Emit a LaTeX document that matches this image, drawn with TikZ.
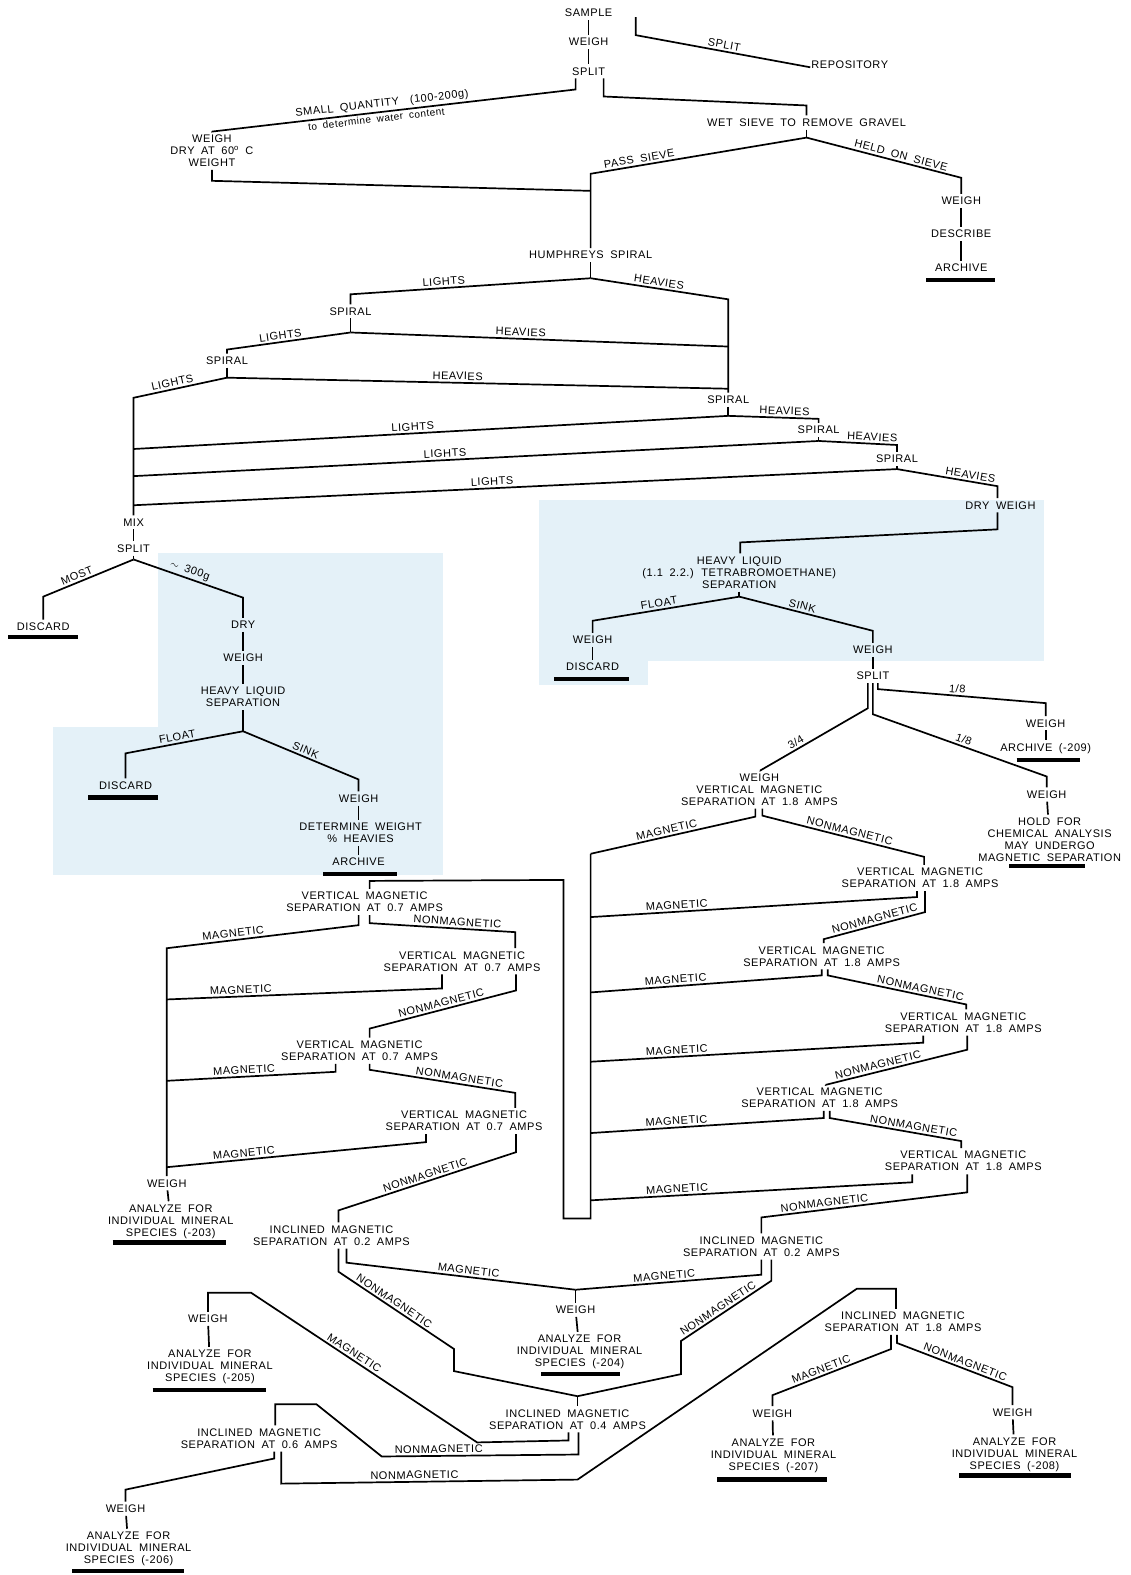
\documentclass[tikz,border=0pt]{standalone}
\usepackage{fontspec}
\newfontfamily\lblfont[LetterSpace=5,WordSpace=1.8]{Liberation Sans}
\newcommand{\lblsize}{\lblfont\fontsize{11}{12}\selectfont}
\definecolor{panel}{RGB}{228,241,248}
\begin{document}
\begin{tikzpicture}
  [x=1.0044pt, y=-1.0044pt,
   lbl/.style={font=\lblsize, inner xsep=1pt, inner ysep=3pt, align=center},
   tag/.style={font=\lblsize, inner sep=2pt, sloped, above},
   wire/.style={line width=1.7pt},
   bar/.style={line width=4.2pt}]

  \useasboundingbox (0,0) rectangle (1125,1568);

  % shaded panels
  \fill[panel] (157,551) rectangle (441,871);
  \fill[panel] (53,724) rectangle (157,871);
  \fill[panel] (537,498) rectangle (1039,658);
  \fill[panel] (537,658) rectangle (645,682);

  % sample, split, sieve
  \node[lbl] (sample) at (586,13) {SAMPLE};
  \node[lbl] (weigh0) at (586,42) {WEIGH};
  \node[lbl] (split0) at (586,71) {SPLIT};
  \node[lbl] (repo) at (846,64) {REPOSITORY};
  \node[lbl] (weigh1) at (211,150) {WEIGH\\DRY AT 60\textsuperscript{o} C\\WEIGHT};
  \node[lbl] (wetsieve) at (803,122) {WET SIEVE TO REMOVE GRAVEL};
  \node[lbl] (weigh2) at (957,200) {WEIGH};
  \node[lbl] (describe) at (957,233) {DESCRIBE};
  \node[lbl] (archive1) at (957,267) {ARCHIVE};
  \node[lbl] (humph) at (588,254) {HUMPHREYS SPIRAL};

  \coordinate (repoleg) at (633,17);
  \coordinate (c-small) at (211,131);
  \coordinate (c-wet) at (803,105);
  \coordinate (j-sieve) at (803,137);
  \coordinate (c-pass) at (588,173);
  \coordinate (c-held) at (957,177);
  \coordinate (j-dry) at (588,190);

  \draw[wire] (sample) -- (weigh0);
  \draw[wire] (weigh0) -- (split0);
  \draw[wire] (repoleg) -- (633,35) -- node[tag,pos=.5] (t-repo) {SPLIT} ([yshift=-3pt]repo.west);
  \draw[wire] ([xshift=-13pt]split0.south) -- ++(0,11)
    -- node[tag,pos=.53] (t-small) {SMALL QUANTITY\quad(100-200g)}
       node[tag,below,pos=.55] (t-water) {\fontsize{10}{11}\selectfont to determine water content}
    (c-small) -- (weigh1.north);
  \draw[wire] (weigh1.south) -- ++(0,11) -- (j-dry);
  \draw[wire] ([xshift=15pt]split0.south) -- ++(0,18) -- (c-wet) -- (wetsieve.north);
  \draw[wire] (wetsieve) -- (j-sieve);
  \draw[wire] (j-sieve) -- node[tag,pos=.77] (t-pass) {PASS SIEVE} (c-pass) -- (humph);
  \draw[wire] (j-sieve) -- node[tag,pos=.6] (t-held) {HELD ON SIEVE} (c-held) -- (weigh2);
  \draw[wire] (weigh2) -- (describe);
  \draw[wire] (describe) -- (archive1);
  \draw[bar] (922,279) -- (991,279);

  % spirals
  \node[lbl] (spiral1) at (349,310) {SPIRAL};
  \node[lbl] (spiral2) at (226,359) {SPIRAL};
  \node[lbl] (spiral4) at (725,398) {SPIRAL};
  \node[lbl] (spiral5) at (815,428) {SPIRAL};
  \node[lbl] (spiral6) at (893,457) {SPIRAL};
  \node[lbl] (dryweigh) at (996,503) {DRY WEIGH};
  \node[lbl] (mix) at (133,520) {MIX};
  \node[lbl] (split1) at (133,546) {SPLIT};

  \coordinate (j-h) at (588,277);
  \coordinate (c-l1) at (349,293);
  \coordinate (c-h1) at (725,298);
  \coordinate (j-s1) at (349,331);
  \coordinate (c-l2) at (226,348);
  \coordinate (m-h2) at (725,345);
  \coordinate (j-s2) at (226,376);
  \coordinate (c-l3) at (133,396);
  \coordinate (m-h3) at (725,387);
  \coordinate (j-s4) at (725,414);
  \coordinate (m-l4) at (133,447);
  \coordinate (c-h4) at (815,417);
  \coordinate (j-s5) at (815,439);
  \coordinate (m-l5) at (133,474);
  \coordinate (c-h5) at (893,443);
  \coordinate (j-s6) at (893,467);
  \coordinate (m-l6) at (133,503);
  \coordinate (c-h6) at (993,484);

  \draw[wire] (humph) -- (j-h);
  \draw[wire] (j-h) -- node[tag,pos=.61] (t-l1) {LIGHTS} (c-l1) -- (spiral1);
  \draw[wire] (j-h) -- node[tag,pos=.49] (t-h1) {HEAVIES} (c-h1) -- (spiral4);
  \draw[wire] (spiral1) -- (j-s1);
  \draw[wire] (j-s1) -- node[tag,pos=.56] (t-l2) {LIGHTS} (c-l2) -- (spiral2);
  \draw[wire] (j-s1) -- node[tag,pos=.45] (t-h2) {HEAVIES} (m-h2);
  \draw[wire] (spiral2) -- (j-s2);
  \draw[wire] (j-s2) -- node[tag,pos=.57] (t-l3) {LIGHTS} (c-l3) -- (mix);
  \draw[wire] (j-s2) -- node[tag,pos=.46] (t-h3) {HEAVIES} (m-h3);
  \draw[wire] (spiral4) -- (j-s4);
  \draw[wire] (j-s4) -- node[tag,pos=.53] (t-l4) {LIGHTS} (m-l4);
  \draw[wire] (j-s4) -- node[tag,pos=.62] (t-h4) {HEAVIES} (c-h4) -- (spiral5);
  \draw[wire] (spiral5) -- (j-s5);
  \draw[wire] (j-s5) -- node[tag,pos=.545] (t-l5) {LIGHTS} (m-l5);
  \draw[wire] (j-s5) -- node[tag,pos=.68] (t-h5) {HEAVIES} (c-h5) -- (spiral6);
  \draw[wire] (spiral6) -- (j-s6);
  \draw[wire] (j-s6) -- node[tag,pos=.53] (t-l6) {LIGHTS} (m-l6);
  \draw[wire] (j-s6) -- node[tag,pos=.72] (t-h6) {HEAVIES} (c-h6) -- (c-h6 |- dryweigh.north);
  \draw[wire] (mix) -- (split1);

  % left heavy liquid panel
  \node[lbl] (discard1) at (43,624) {DISCARD};
  \node[lbl] (dry1) at (242,622) {DRY};
  \node[lbl] (weigh3) at (242,655) {WEIGH};
  \node[lbl] (hls1) at (242,694) {HEAVY LIQUID\\SEPARATION};
  \node[lbl] (discard2) at (125,782) {DISCARD};
  \node[lbl] (weigh4) at (357,795) {WEIGH};
  \node[lbl] (detw) at (359,829) {DETERMINE WEIGHT\\\% HEAVIES};
  \node[lbl] (archive2) at (357,858) {ARCHIVE};

  \coordinate (j-sp1) at (133,557);
  \coordinate (c-most) at (43,594);
  \coordinate (c-300) at (242,595);
  \coordinate (j-hl1) at (242,728);
  \coordinate (c-fl1) at (125,750);
  \coordinate (c-sk1) at (357,776);

  \draw[wire] (split1) -- (j-sp1);
  \draw[wire] (j-sp1) -- node[tag,pos=.6] (t-most) {MOST} (c-most) -- (discard1);
  \draw[wire] (j-sp1) -- node[tag,pos=.49] (t-300) {$\sim$ 300g} (c-300) -- (dry1);
  \draw[wire] (dry1) -- (weigh3);
  \draw[wire] (weigh3) -- (hls1);
  \draw[wire] (hls1) -- (j-hl1);
  \draw[wire] (j-hl1) -- node[tag,pos=.55] (t-fl1) {FLOAT} (c-fl1) -- (discard2);
  \draw[wire] (j-hl1) -- node[tag,pos=.52] (t-sk1) {SINK} (c-sk1) -- (weigh4);
  \draw[wire] (weigh4) -- (weigh4 |- detw.north);
  \draw[wire] (archive2 |- detw.south) -- (archive2);
  \draw[bar] (8,634) -- (78,634);
  \draw[bar] (88,794) -- (157,794);
  \draw[bar] (322,870) -- (395,870);

  % right heavy liquid panel
  \node[lbl] (hl2) at (736,570) {HEAVY LIQUID\\(1.1 2.2.) TETRABROMOETHANE)\\SEPARATION};
  \node[lbl] (weigh5) at (590,637) {WEIGH};
  \node[lbl] (discard3) at (590,664) {DISCARD};
  \node[lbl] (weigh6) at (869,647) {WEIGH};
  \node[lbl] (split2) at (869,673) {SPLIT};
  \node[lbl] (weigh7) at (1041,720) {WEIGH};
  \node[lbl] (archive3) at (1041,745) {ARCHIVE (-209)};
  \node[lbl] (weigh8) at (1042,791) {WEIGH};
  \node[lbl] (hold) at (1045,836) {HOLD FOR\\CHEMICAL ANALYSIS\\MAY UNDERGO\\MAGNETIC SEPARATION};
  \node[lbl] (vm0) at (756,786) {WEIGH\\VERTICAL MAGNETIC\\SEPARATION AT 1.8 AMPS};

  \coordinate (c-dw) at (993,527);
  \coordinate (c-hl2) at (737,540);
  \coordinate (j-hl2) at (736,594);
  \coordinate (c-fl2) at (590,618);
  \coordinate (c-sk2) at (869,628);
  \coordinate (c-r8) at (1041,700);
  \coordinate (c-m8) at (1042,773);
  \coordinate (c-q) at (757,767);

  \draw[wire] (dryweigh.south -| c-dw) -- (c-dw) -- (c-hl2) -- (hl2.north -| c-hl2);
  \draw[wire] (hl2) -- (j-hl2);
  \draw[wire] (j-hl2) -- node[tag,pos=.54] (t-fl2) {FLOAT} (c-fl2) -- (weigh5);
  \draw[wire] (j-hl2) -- node[tag,pos=.46] (t-sk2) {SINK} (c-sk2) -- (weigh6);
  \draw[wire] (weigh5) -- (discard3);
  \draw[wire] (weigh6) -- (split2);
  \draw[wire] ([xshift=5pt]split2.south) -- ++(0,6) -- node[tag,pos=.47] (t-r8) {1/8} (c-r8) -- (weigh7);
  \draw[wire] (split2.south) -- ++(0,31) -- node[tag,pos=.51] (t-m8) {1/8} (c-m8) -- (weigh8);
  \draw[wire] ([xshift=-5pt]split2.south) -- ++(0,25) -- node[tag,pos=.64] (t-q) {3/4} (c-q) -- (vm0.north -| c-q);
  \draw[wire] (weigh7) -- (archive3);
  \draw[wire] (weigh8) -- (hold);
  \draw[bar] (552,676) -- (626,676);
  \draw[bar] (1012,757) -- (1075,757);
  \draw[bar] (1005,862) -- (1080,862);

  % vertical magnetic separations at 1.8 amps
  \node[lbl] (v1) at (916,874) {VERTICAL MAGNETIC\\SEPARATION AT 1.8 AMPS};
  \node[lbl] (v2) at (818,952) {VERTICAL MAGNETIC\\SEPARATION AT 1.8 AMPS};
  \node[lbl] (v3) at (959,1018) {VERTICAL MAGNETIC\\SEPARATION AT 1.8 AMPS};
  \node[lbl] (v4) at (816,1093) {VERTICAL MAGNETIC\\SEPARATION AT 1.8 AMPS};
  \node[lbl] (v5) at (959,1156) {VERTICAL MAGNETIC\\SEPARATION AT 1.8 AMPS};
  \node[lbl] (i2r) at (758,1241) {INCLINED MAGNETIC\\SEPARATION AT 0.2 AMPS};

  \coordinate (c-rt) at (588,850);
  \coordinate (c-rb) at (588,1213);
  \coordinate (c-lb) at (561,1213);
  \coordinate (c-lt) at (561,876);
  \coordinate (c-l1t) at (368,877);
  \coordinate (c-v1) at (920,853);
  \coordinate (m-r1) at (588,913);
  \coordinate (c-v2) at (820,935);
  \coordinate (m-r2) at (588,988);
  \coordinate (c-v3) at (962,1000);
  \coordinate (m-r3) at (588,1057);
  \coordinate (c-v4) at (822,1080);
  \coordinate (m-r4) at (588,1128);
  \coordinate (c-v5) at (957,1136);
  \coordinate (m-r5) at (588,1195);
  \coordinate (c-i2r) at (758,1212);

  \draw[wire] ([xshift=-4pt]vm0.south) -- ++(0,8) -- node[tag,pos=.53] (t-vm0m) {MAGNETIC} (c-rt);
  \draw[wire] ([xshift=3pt]vm0.south) -- ++(0,7) -- node[tag,pos=.53] (t-vm0n) {NONMAGNETIC} (c-v1) -- (c-v1 |- v1.north);
  \draw[wire] ([xshift=-3pt]v1.south) -- ++(0,6) -- node[tag,pos=.735] (t-v1m) {MAGNETIC} (m-r1);
  \draw[wire] ([xshift=5pt]v1.south) -- ++(0,21) -- node[tag,pos=.48] (t-v1n) {NONMAGNETIC} (c-v2) -- (c-v2 |- v2.north);
  \draw[wire] (v2.south) -- ++(0,6) -- node[tag,pos=.63] (t-v2m) {MAGNETIC} (m-r2);
  \draw[wire] ([xshift=6pt]v2.south) -- ++(0,6) -- node[tag,pos=.66] (t-v2n) {NONMAGNETIC} (c-v3) -- (c-v3 |- v3.north);
  \draw[wire] ([xshift=-40pt]v3.south) -- ++(0,7) -- node[tag,pos=.74] (t-v3m) {MAGNETIC} (m-r3);
  \draw[wire] ([xshift=4pt]v3.south) -- ++(0,14) -- node[tag,pos=.62] (t-v3n) {NONMAGNETIC} (c-v4) -- (c-v4 |- v4.north);
  \draw[wire] ([xshift=4pt]v4.south) -- ++(0,7) -- node[tag,pos=.63] (t-v4m) {MAGNETIC} (m-r4);
  \draw[wire] ([xshift=10pt]v4.south) -- ++(0,7) -- node[tag,pos=.63] (t-v4n) {NONMAGNETIC} (c-v5) -- (c-v5 |- v5.north);
  \draw[wire] ([xshift=-51pt]v5.south) -- ++(0,8) -- node[tag,pos=.73] (t-v5m) {MAGNETIC} (m-r5);
  \draw[wire] ([xshift=4pt]v5.south) -- ++(0,18) -- node[tag,pos=.69] (t-v5n) {NONMAGNETIC} (c-i2r) -- (c-i2r |- i2r.north);

  % vertical magnetic separations at 0.7 amps
  \node[lbl] (l1) at (363,898) {VERTICAL MAGNETIC\\SEPARATION AT 0.7 AMPS};
  \node[lbl] (l2) at (460,957) {VERTICAL MAGNETIC\\SEPARATION AT 0.7 AMPS};
  \node[lbl] (l3) at (358,1046) {VERTICAL MAGNETIC\\SEPARATION AT 0.7 AMPS};
  \node[lbl] (l4) at (462,1116) {VERTICAL MAGNETIC\\SEPARATION AT 0.7 AMPS};
  \node[lbl] (weigh10) at (166,1178) {WEIGH};
  \node[lbl] (an203) at (170,1216) {ANALYZE FOR\\INDIVIDUAL MINERAL\\SPECIES (-203)};
  \node[lbl] (i2l) at (330,1230) {INCLINED MAGNETIC\\SEPARATION AT 0.2 AMPS};

  % trunk loops round to the 0.7 amps chain
  \draw[wire] (c-rt) -- (c-rb) -- (c-lb) -- (c-lt) -- (c-l1t) -- (c-l1t |- l1.north);

  \coordinate (c-lt1) at (166,944);
  \coordinate (c-l2b) at (513,928);
  \coordinate (m-l2) at (166,995);
  \coordinate (c-l3b) at (368,1024);
  \coordinate (m-l3) at (166,1076);
  \coordinate (c-l4b) at (513,1088);
  \coordinate (m-l4b) at (166,1162);
  \coordinate (c-i2l) at (337,1205);

  \draw[wire] ([xshift=-6pt]l1.south) -- ++(0,10) -- node[tag,pos=.65] (t-l1m) {MAGNETIC} (c-lt1) -- (weigh10);
  \draw[wire] ([xshift=5pt]l1.south) -- ++(0,8) -- node[tag,pos=.6] (t-l1n) {NONMAGNETIC} (c-l2b) -- (c-l2b |- l2.north);
  \draw[wire] ([xshift=-20pt]l2.south) -- ++(0,14) -- node[tag,pos=.73] (t-l2m) {MAGNETIC} (m-l2);
  \draw[wire] ([xshift=54pt]l2.south) -- ++(0,16) -- node[tag,pos=.5] (t-l2n) {NONMAGNETIC} (c-l3b) -- (c-l3b |- l3.north);
  \draw[wire] ([xshift=-24pt]l3.south) -- ++(0,8) -- node[tag,pos=.54] (t-l3m) {MAGNETIC} (m-l3);
  \draw[wire] ([xshift=10pt]l3.south) -- ++(0,6) -- node[tag,pos=.61] (t-l3n) {NONMAGNETIC} (c-l4b) -- (c-l4b |- l4.north);
  \draw[wire] ([xshift=-38pt]l4.south) -- ++(0,8) -- node[tag,pos=.7] (t-l4m) {MAGNETIC} (m-l4b);
  \draw[wire] ([xshift=52pt]l4.south) -- ++(0,18) -- node[tag,pos=.5] (t-l4n) {NONMAGNETIC} (c-i2l) -- (c-i2l |- i2l.north);
  \draw[wire] (weigh10) -- (an203);
  \draw[bar] (112,1237) -- (225,1237);

  % inclined magnetic separations
  \node[lbl] (weigh9) at (573,1304) {WEIGH};
  \node[lbl] (an204) at (577,1346) {ANALYZE FOR\\INDIVIDUAL MINERAL\\SPECIES (-204)};
  \node[lbl] (i04) at (565,1413) {INCLINED MAGNETIC\\SEPARATION AT 0.4 AMPS};
  \node[lbl] (weigh11) at (207,1313) {WEIGH};
  \node[lbl] (an205) at (209,1361) {ANALYZE FOR\\INDIVIDUAL MINERAL\\SPECIES (-205)};
  \node[lbl] (i06) at (258,1432) {INCLINED MAGNETIC\\SEPARATION AT 0.6 AMPS};
  \node[lbl] (weigh12) at (125,1502) {WEIGH};
  \node[lbl] (an206) at (128,1542) {ANALYZE FOR\\INDIVIDUAL MINERAL\\SPECIES (-206)};
  \node[lbl] (i18) at (899,1316) {INCLINED MAGNETIC\\SEPARATION AT 1.8 AMPS};
  \node[lbl] (weigh13) at (769,1407) {WEIGH};
  \node[lbl] (an207) at (770,1449) {ANALYZE FOR\\INDIVIDUAL MINERAL\\SPECIES (-207)};
  \node[lbl] (weigh14) at (1008,1406) {WEIGH};
  \node[lbl] (an208) at (1010,1448) {ANALYZE FOR\\INDIVIDUAL MINERAL\\SPECIES (-208)};

  \coordinate (j-204) at (573,1284);
  \coordinate (c-n2a) at (678,1335);
  \coordinate (c-n2b) at (678,1368);
  \coordinate (j-04) at (575,1390);
  \coordinate (c-n1a) at (452,1343);
  \coordinate (c-n1b) at (452,1365);
  \coordinate (c-m4a) at (475,1436);
  \coordinate (c-m4b) at (250,1287);
  \coordinate (c-m4c) at (207,1287);
  \coordinate (c-n4a) at (380,1450);
  \coordinate (c-n4b) at (315,1398);
  \coordinate (c-n4c) at (274,1398);
  \coordinate (c-w12) at (125,1483);
  \coordinate (c-n6a) at (575,1473);
  \coordinate (c-n6b) at (853,1283);
  \coordinate (c-n6c) at (892,1283);
  \coordinate (c-w13) at (769,1389);
  \coordinate (c-w14) at (1008,1381);

  \draw[wire] (i2r.south) -- ++(0,15) -- node[tag,pos=.52] (t-i2rm) {MAGNETIC} (j-204);
  \draw[wire] ([xshift=10pt]i2r.south) -- ++(0,21) -- node[tag,pos=.55] (t-i2rn) {NONMAGNETIC} (c-n2a) -- (c-n2b) -- (j-04);
  \draw[wire] ([xshift=15pt]i2l.south) -- ++(0,14) -- node[tag,pos=.53] (t-i2lm) {MAGNETIC} (j-204);
  \draw[wire] ([xshift=7pt]i2l.south) -- ++(0,23) -- node[tag,pos=.45] (t-i2ln) {NONMAGNETIC} (c-n1a) -- (c-n1b) -- (j-04);
  \draw[wire] (j-204) -- (weigh9);
  \draw[wire] (weigh9) -- (an204);
  \draw[wire] (j-04) -- (j-04 |- i04.north);
  \draw[wire] ([xshift=1pt]i04.south) -- ++(0,8) -- (c-m4a) -- node[tag,pos=.56] (t-i04m) {MAGNETIC} (c-m4b) -- (c-m4c) -- (weigh11);
  \draw[wire] ([xshift=11pt]i04.south) -- ++(0,22) -- node[tag,pos=.71] (t-i04n) {NONMAGNETIC} (c-n4a) -- (c-n4b) -- (c-n4c) -- (c-n4c |- i06.north);
  \draw[wire] (weigh11) -- (an205);
  \draw[wire] ([xshift=15pt]i06.south) -- ++(0,7) -- (c-w12) -- (weigh12);
  \draw[wire] ([xshift=22pt]i06.south) -- ++(0,32) -- node[tag,pos=.45] (t-i06n) {NONMAGNETIC} (c-n6a) -- (c-n6b) -- (c-n6c) -- (c-n6c |- i18.north);
  \draw[wire] (weigh12) -- (an206);
  \draw[wire] ([xshift=-12pt]i18.south) -- ++(0,14) -- node[tag,pos=.57] (t-i18m) {MAGNETIC} (c-w13) -- (weigh13);
  \draw[wire] ([xshift=-6pt]i18.south) -- ++(0,8) -- node[tag,pos=.57] (t-i18n) {NONMAGNETIC} (c-w14) -- (weigh14);
  \draw[wire] (weigh13) -- (an207);
  \draw[wire] (weigh14) -- (an208);
  \draw[bar] (539,1368) -- (617,1368);
  \draw[bar] (152,1384) -- (265,1384);
  \draw[bar] (72,1564) -- (183,1564);
  \draw[bar] (714,1473) -- (823,1473);
  \draw[bar] (955,1469) -- (1066,1469);

\end{tikzpicture}
\end{document}
